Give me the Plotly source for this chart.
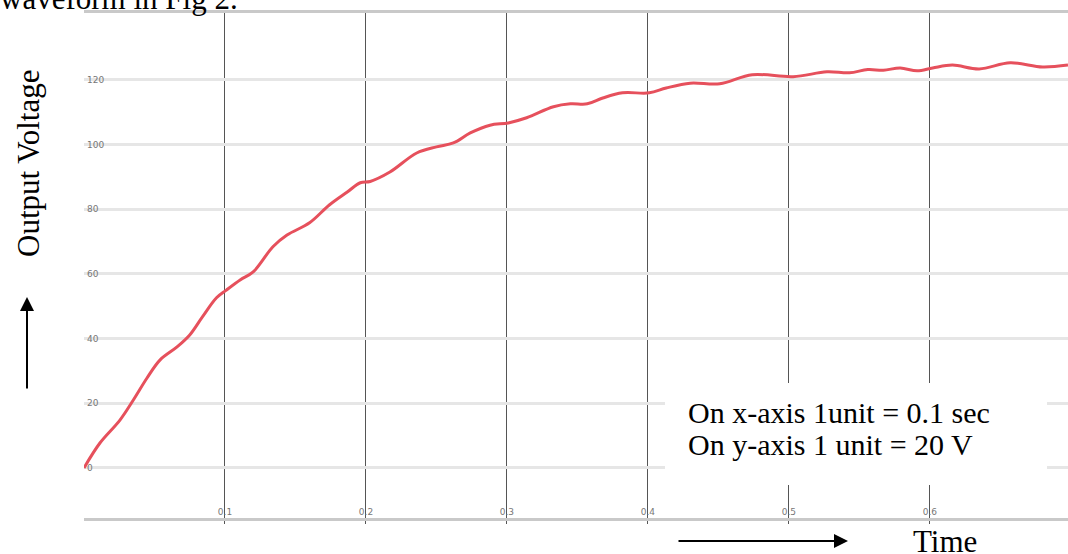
import plotly.graph_objects as go

# ---- data ----
time_s = [0, 0.0113, 0.0255, 0.035, 0.0447, 0.054, 0.066, 0.075, 0.084, 0.094,
          0.101, 0.111, 0.12, 0.134, 0.144, 0.160, 0.174, 0.187, 0.196, 0.203,
          0.217, 0.236, 0.250, 0.262, 0.274, 0.288, 0.301, 0.314, 0.333, 0.345,
          0.357, 0.368, 0.382, 0.401, 0.413, 0.430, 0.451, 0.474, 0.503, 0.527,
          0.543, 0.556, 0.567, 0.579, 0.591, 0.602, 0.616, 0.635, 0.657, 0.680, 0.698]
voltage = [0, 7.7, 14.8, 21, 27.8, 33.4, 37.4, 41.1, 46.7, 52.6,
           55, 58.2, 60.6, 68.4, 72, 75.8, 81.3, 85.4, 88.2, 88.6,
           91.5, 97.4, 99.3, 100.5, 103.6, 106, 106.7, 108.3, 111.7, 112.6,
           112.6, 114.4, 116, 116, 117.5, 119, 118.8, 121.6, 121, 122.5,
           122.2, 123.2, 123, 123.7, 122.8, 123.7, 124.6, 123.4, 125.3, 124, 124.6]
x_ticks = [0.1, 0.2, 0.3, 0.4, 0.5, 0.6]
x_tick_text = ["0.1", "0.2", "0.3", "0.4", "0.5", "0.6"]
y_ticks = [0, 20, 40, 60, 80, 100, 120]
y_tick_text = ["0", "20", "40", "60", "80", "100", "120"]

W, H = 1068, 554
L, R, T, B = 84, 0, 13, 36
PW, PH = W - L - R, H - T - B


def px(xp):
    return (xp - L) / PW


def py(yp):
    return (H - B - yp) / PH


serif = "Liberation Serif, Times New Roman, serif"

fig = go.Figure()
fig.add_trace(go.Scatter(
    x=time_s, y=voltage, mode="lines",
    line=dict(color="rgb(230,80,92)", width=3, shape="spline", smoothing=1.0),
    hoverinfo="skip", showlegend=False,
))

fig.update_layout(
    width=W, height=H,
    margin=dict(l=L, r=R, t=T, b=B, pad=0),
    paper_bgcolor="white", plot_bgcolor="white",
    showlegend=False,
    xaxis=dict(
        range=[0, 0.698], tickvals=x_ticks, ticktext=x_tick_text,
        showgrid=True, gridcolor="#555555", gridwidth=1,
        zeroline=False, showline=True, mirror=True,
        linecolor="#c9c9c9", linewidth=3,
        ticks="outside", ticklen=3, tickcolor="#555", tickwidth=1,
        ticklabelposition="inside",
        tickfont=dict(family="DejaVu Sans", size=9, color="#777"),
    ),
    yaxis=dict(
        range=[-15.5, 140.7], tickvals=y_ticks, ticktext=y_tick_text,
        showgrid=True, gridcolor="#e6e6e6", gridwidth=3,
        zeroline=False, showline=False, ticks="",
        ticklabelposition="inside",
        tickfont=dict(family="DejaVu Sans", size=9, color="#777"),
    ),
    shapes=[dict(
        type="rect", xref="paper", yref="paper", layer="above",
        x0=px(665), x1=px(1047), y0=py(485), y1=py(383),
        fillcolor="white", line=dict(width=0),
    )],
)

annots = [
    dict(text="waveform in Fig 2.", x=px(-2), y=py(-1), xanchor="left", yanchor="middle",
         font=dict(family=serif, size=31, color="black")),
    dict(text="Output Voltage", x=px(28), y=py(164), xanchor="center", yanchor="middle",
         textangle=-90, font=dict(family=serif, size=31, color="black")),
    dict(text="On x-axis 1unit = 0.1 sec", x=px(686), y=py(412), xanchor="left", yanchor="middle",
         font=dict(family=serif, size=30, color="black")),
    dict(text="On y-axis 1 unit = 20 V", x=px(686), y=py(444), xanchor="left", yanchor="middle",
         font=dict(family=serif, size=30, color="black")),
    dict(text="Time", x=px(945), y=py(541), xanchor="center", yanchor="middle",
         font=dict(family=serif, size=31, color="black")),
]
for a in annots:
    fig.add_annotation(xref="paper", yref="paper", showarrow=False, **a)

# arrows
fig.add_annotation(xref="paper", yref="paper", x=px(27), y=py(297), ax=0, ay=93,
                   text="", showarrow=True, arrowhead=2, arrowsize=1.4,
                   arrowwidth=2, arrowcolor="black")
fig.add_annotation(xref="paper", yref="paper", x=px(848), y=py(541), ax=-171, ay=0,
                   text="", showarrow=True, arrowhead=2, arrowsize=1.4,
                   arrowwidth=2, arrowcolor="black")

fig.write_html(
    "out.html",
    config={"displayModeBar": False},
    post_script="document.body.style.margin='0';document.body.style.overflow='hidden';",
)
